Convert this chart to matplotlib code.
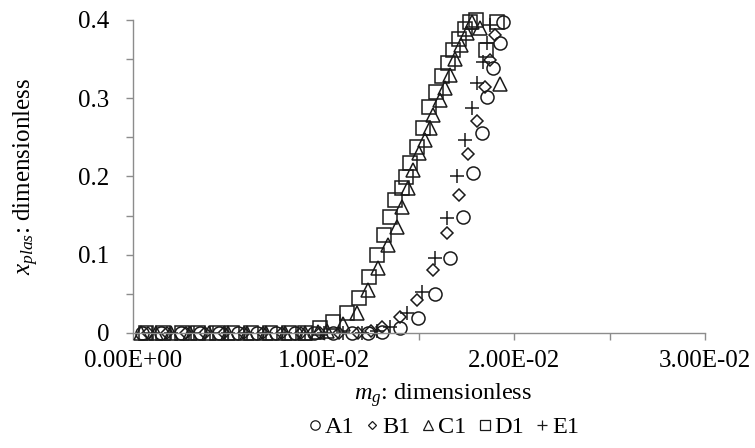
import matplotlib
matplotlib.use("Agg")
import matplotlib.pyplot as plt
from matplotlib.ticker import FuncFormatter, MultipleLocator
from matplotlib.lines import Line2D

plt.rcParams['font.family'] = ['Liberation Serif', 'DejaVu Serif']
plt.rcParams['mathtext.fontset'] = 'custom'
plt.rcParams['mathtext.rm'] = 'Liberation Serif'
plt.rcParams['mathtext.it'] = 'Liberation Serif:italic'

# Series data: m_g (x) and x_plas (y)
a1_x = [0.0005, 0.0015, 0.0025, 0.0035, 0.0045, 0.0055, 0.0065, 0.0075, 0.0085,
        0.0095, 0.0105, 0.0115, 0.0123, 0.01306, 0.0140, 0.01494, 0.01584, 0.01662,
        0.0173, 0.01783, 0.0183, 0.01856, 0.01888, 0.01924, 0.0194]
a1_y = [0, 0, 0, 0, 0, 0, 0, 0, 0,
        0, 0, 0, 0, 0.001, 0.0064, 0.019, 0.050, 0.096,
        0.148, 0.204, 0.256, 0.302, 0.339, 0.371, 0.397]

b1_x = [0.0008, 0.0018, 0.0028, 0.0038, 0.0048, 0.0058, 0.0068, 0.0078, 0.0088,
        0.0098, 0.0108, 0.0118, 0.0125, 0.01306, 0.0140, 0.01489, 0.01573, 0.01647,
        0.0171, 0.01757, 0.01804, 0.01846, 0.01872, 0.0190]
b1_y = [0, 0, 0, 0, 0, 0, 0, 0, 0,
        0, 0, 0, 0.002, 0.0077, 0.0204, 0.042, 0.0805, 0.128,
        0.176, 0.229, 0.271, 0.314, 0.349, 0.381]

c1_x = [0.0004, 0.0012, 0.0020, 0.0030, 0.0040, 0.0050, 0.0060, 0.0070, 0.0080,
        0.0090, 0.0097, 0.0102, 0.0110, 0.01175, 0.01232, 0.01285, 0.01337, 0.01384,
        0.01411, 0.01442, 0.01468, 0.0150, 0.01531, 0.01557, 0.01573, 0.0161,
        0.01636, 0.0166, 0.0169, 0.0172, 0.0175, 0.0178, 0.0182, 0.01924]
c1_y = [0, 0, 0, 0, 0, 0, 0, 0, 0,
        0, 0.001, 0.003, 0.012, 0.0256, 0.055, 0.083, 0.112, 0.135,
        0.161, 0.185, 0.208, 0.230, 0.247, 0.262, 0.279, 0.298,
        0.313, 0.330, 0.350, 0.368, 0.383, 0.397, 0.390, 0.318]

d1_x = [0.0007, 0.0016, 0.0026, 0.0034, 0.0044, 0.0052, 0.0062, 0.0072, 0.0082,
        0.0090, 0.00981, 0.01049, 0.01122, 0.01185, 0.01238, 0.01279, 0.01316, 0.01348,
        0.01374, 0.01411, 0.01432, 0.01453, 0.01489, 0.01521, 0.01552, 0.0159,
        0.0162, 0.0165, 0.0168, 0.0171, 0.0174, 0.01767, 0.0180, 0.0185, 0.0191]
d1_y = [0, 0, 0, 0, 0, 0, 0, 0, 0,
        0, 0.0064, 0.014, 0.0256, 0.0447, 0.0716, 0.0997, 0.125, 0.148,
        0.170, 0.185, 0.199, 0.217, 0.238, 0.262, 0.289, 0.308,
        0.328, 0.345, 0.362, 0.376, 0.388, 0.398, 0.400, 0.362, 0.397]

e1_x = [0.0010, 0.0020, 0.0032, 0.0042, 0.0050, 0.0060, 0.0070, 0.0080, 0.0090,
        0.0100, 0.0110, 0.0120, 0.0128, 0.01348, 0.01437, 0.01515, 0.01584, 0.01647,
        0.01699, 0.01741, 0.01778, 0.01804, 0.01835, 0.01856, 0.01872]
e1_y = [0, 0, 0, 0, 0, 0, 0, 0, 0,
        0, 0, 0, 0.002, 0.0077, 0.0256, 0.052, 0.096, 0.147,
        0.200, 0.247, 0.288, 0.319, 0.346, 0.371, 0.394]

series_names = ['A1', 'B1', 'C1', 'D1', 'E1']
x_ticks = [0.0, 0.01, 0.02, 0.03]
y_ticks = [0.0, 0.1, 0.2, 0.3, 0.4]

styles = [
    dict(marker='o', ms=9.4),
    dict(marker='D', ms=6.2),
    dict(marker='^', ms=9.5),
    dict(marker='s', ms=9.6),
    dict(marker='+', ms=10.5),
]

fig = plt.figure(figsize=(7.55, 4.48), dpi=100)
ax = fig.add_axes([0.176, 0.2567, 0.758, 0.6987])

data = [(a1_x, a1_y), (b1_x, b1_y), (c1_x, c1_y), (d1_x, d1_y), (e1_x, e1_y)]
edge = '#1a1a1a'
for (xs, ys), st in zip(data, styles):
    ax.plot(xs, ys, linestyle='none', marker=st['marker'], markersize=st['ms'],
            markerfacecolor='none', markeredgecolor=edge, markeredgewidth=1.1,
            color=edge, clip_on=False)

ax.set_xlim(0, 0.03)
ax.set_ylim(0, 0.4)
ax.set_xticks(x_ticks)
ax.set_yticks(y_ticks)
ax.xaxis.set_minor_locator(MultipleLocator(0.005))
ax.yaxis.set_minor_locator(MultipleLocator(0.05))
ax.xaxis.set_major_formatter(FuncFormatter(lambda v, p: f"{v:.2E}"))
ax.yaxis.set_major_formatter(FuncFormatter(lambda v, p: "0" if abs(v) < 1e-12 else f"{v:.1f}"))

axis_col = '#8c8c8c'
for side in ['top', 'right']:
    ax.spines[side].set_visible(False)
for side in ['left', 'bottom']:
    ax.spines[side].set_color(axis_col)
    ax.spines[side].set_linewidth(1.0)
ax.tick_params(which='both', direction='out', length=5, width=1.0,
               color=axis_col, labelsize=18, labelcolor='black')
ax.tick_params(axis='x', which='major', pad=7)
ax.tick_params(axis='y', which='major', pad=12)

ax.set_xlabel(r'$m_g$: dimensionless', fontsize=17.5)
ax.xaxis.set_label_coords(0.542, -0.155)
ax.set_ylabel(r'$x_{plas}$: dimensionless', fontsize=18)
ax.yaxis.set_label_coords(-0.16, 0.5)

handles = []
for st, name in zip(styles, series_names):
    handles.append(Line2D([], [], linestyle='none', marker=st['marker'],
                          markersize=st['ms'] * 0.72, markerfacecolor='none',
                          markeredgecolor=edge, markeredgewidth=0.9, label=name))
fig.legend(handles=handles, loc='center', bbox_to_anchor=(0.587, 0.046), ncol=5,
           frameon=False, fontsize=17.5, handlelength=0.6, handletextpad=0.1,
           columnspacing=0.45, borderpad=0)

fig.savefig('out.png', dpi=100)
